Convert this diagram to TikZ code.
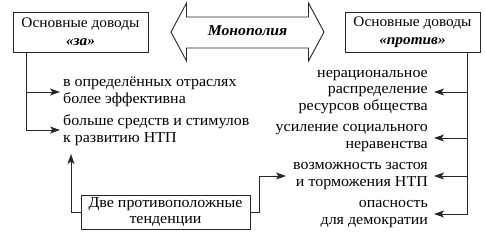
\documentclass[tikz,border=0pt]{standalone}
\usepackage{fontspec}
\setmainfont{Liberation Serif}[FakeStretch=1.05]
\usetikzlibrary{arrows.meta}
\tikzset{
  x=1pt, y=-1pt,
  box/.style={draw=black!85, line width=0.9pt, align=center, inner sep=0pt,
    font=\fontsize{14.6}{18}\selectfont},
  itemL/.style={anchor=west, align=left, inner xsep=3pt, inner ysep=1pt,
    font=\fontsize{15.2}{16.8}\selectfont},
  itemR/.style={anchor=east, align=right, inner xsep=6pt, inner ysep=1pt,
    font=\fontsize{15.2}{16.8}\selectfont},
  arr/.style={draw=black!85, line width=0.9pt, -{Stealth[length=10pt,width=7pt,inset=2.5pt]}},
  conn/.style={draw=black!85, line width=0.9pt},
}
\begin{document}
\begin{tikzpicture}
\useasboundingbox (0,0) rectangle (485,244);
% header boxes
\node[box, minimum width=135pt, minimum height=40pt] (lbox) at (80.5,32)
  {Основные доводы\\\textbf{\textit{«за»}}};
\node[box, minimum width=135pt, minimum height=40pt] (rbox) at (412.5,32)
  {Основные доводы\\\textbf{\textit{«против»}}};
% double arrow
\draw[conn] (171,32) -- (186.5,3) -- (186.5,17) -- (308.5,17) -- (308.5,3)
  -- (324,32) -- (308.5,61) -- (308.5,48) -- (186.5,48) -- (186.5,61) -- cycle;
\node[font=\fontsize{15}{18}\selectfont\bfseries\itshape] (mono) at (247.5,31) {Монополия};
% left items
\node[itemL] (l1) at (60,92) {в определённых отраслях\\более эффективна};
\node[itemL] (l2) at (60,130) {больше средств и стимулов\\к развитию НТП};
% right items
\node[itemR] (r1) at (434,92) {нерациональное\\распределение\\ресурсов общества};
\node[itemR] (r2) at (434,138) {усиление социального\\неравенства};
\node[itemR] (r3) at (434,176) {возможность застоя\\и торможения НТП};
\node[itemR] (r4) at (434,214) {опасность\\для демократии};
% bottom box
\node[box, minimum width=169pt, minimum height=34pt,
  font=\fontsize{15.2}{16}\selectfont] (bbox) at (165.5,212)
  {Две противоположные\\тенденции};
\coordinate (up) at (71,154);
\coordinate (dn) at (286,176);
% connectors
\draw[arr] ([xshift=14pt]lbox.south west) |- (l1.west);
\draw[arr] ([xshift=14pt]lbox.south west) |- (l2.west);
\draw[arr] ([xshift=-13pt]rbox.south east) |- (r1.east);
\draw[arr] ([xshift=-13pt]rbox.south east) |- (r2.east);
\draw[arr] ([xshift=-13pt]rbox.south east) |- (r3.east);
\draw[arr] ([xshift=-13pt]rbox.south east) |- (r4.east);
\draw[arr] (bbox.west) -| (up);
\draw[arr] (bbox.east) -- ++(9,0) |- (dn);
\end{tikzpicture}
\end{document}
